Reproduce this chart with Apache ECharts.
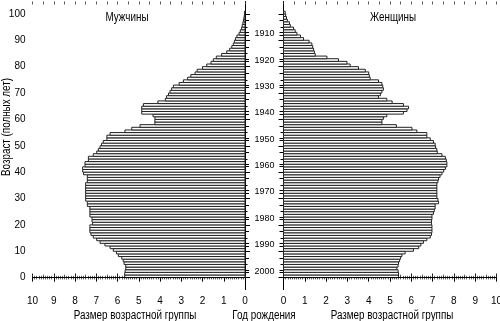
<!DOCTYPE html>
<html><head><meta charset="utf-8">
<script src="https://cdn.jsdelivr.net/npm/echarts@6/dist/echarts.min.js"></script>
<style>html,body{margin:0;padding:0;background:#fff}#c{width:500px;height:321px}</style>
</head><body><div id="c"></div>
<script>
// Age categories (full years)
const ages = [0,1,2,3,4,5,6,7,8,9,10,11,12,13,14,15,16,17,18,19,20,21,22,23,24,25,26,27,28,29,30,31,32,33,34,35,36,37,38,39,40,41,42,43,44,45,46,47,48,49,50,51,52,53,54,55,56,57,58,59,60,61,62,63,64,65,66,67,68,69,70,71,72,73,74,75,76,77,78,79,80,81,82,83,84,85,86,87,88,89,90,91,92,93,94,95,96,97,98,99,100];
// Size of age group, men
const male = [5.66,5.66,5.64,5.61,5.61,5.69,5.73,5.80,5.96,6.05,
 6.20,6.35,6.59,6.82,6.98,7.14,7.25,7.30,7.30,7.30,
 7.17,7.20,7.20,7.30,7.30,7.30,7.30,7.42,7.42,7.50,
 7.50,7.50,7.50,7.50,7.50,7.50,7.42,7.42,7.42,7.60,
 7.64,7.64,7.53,7.53,7.37,7.37,7.14,6.98,6.90,6.82,
 6.75,6.67,6.50,6.50,6.35,5.65,5.33,4.94,4.24,4.24,
 4.24,4.33,4.86,4.86,4.86,4.78,4.10,3.75,3.69,3.60,
 3.53,3.45,3.37,3.10,2.90,2.70,2.55,2.35,2.25,2.00,
 1.80,1.60,1.49,1.35,1.10,0.86,0.72,0.62,0.55,0.50,
 0.45,0.38,0.28,0.22,0.16,0.13,0.10,0.07,0.05,0.03,
 0.02];
// Size of age group, women
const female = [5.40,5.40,5.38,5.32,5.38,5.40,5.45,5.50,5.56,5.71,
 6.10,6.35,6.45,6.57,6.73,6.89,6.95,6.97,6.97,6.97,
 6.95,6.95,6.97,6.97,7.04,7.08,7.12,7.12,7.28,7.25,
 7.20,7.20,7.20,7.20,7.20,7.20,7.25,7.28,7.35,7.44,
 7.52,7.60,7.67,7.67,7.64,7.60,7.44,7.22,7.20,7.14,
 7.12,7.04,6.89,6.73,6.73,6.26,6.03,5.30,4.62,4.62,
 4.69,4.85,5.63,5.80,5.87,5.63,5.10,4.85,4.46,4.55,
 4.62,4.69,4.66,4.62,4.46,4.07,4.03,4.00,3.84,3.52,
 3.13,2.98,2.58,2.04,1.49,1.45,1.41,1.37,1.33,1.20,
 0.94,0.80,0.63,0.55,0.47,0.32,0.28,0.18,0.14,0.10,
 0.08];
// Tick labels
const ageTicks = [0,10,20,30,40,50,60,70,80,90,100];
const ageMinorTicks = [5,15,25,35,45,55,65,75,85,95];
const birthYearLabels = [1910,1920,1930,1940,1950,1960,1970,1980,1990,2000];
const birthYearMinor = [1905,1915,1925,1935,1945,1955,1965,1975,1985,1995];
const CENSUS = 2002.5;

const FONT = '"Liberation Sans", Arial, sans-serif';
const NARROW = 0.82;
const yearLabelAges = birthYearLabels.map(y => CENSUS - y);
const yearTickAges = [];
birthYearLabels.forEach(y => { yearTickAges.push(CENSUS - y - 0.45, CENSUS - y + 0.45); });
birthYearMinor.forEach(y => yearTickAges.push(CENSUS - y));

const YMIN = -4.5, YMAX = 104.7;
const black = {color:'#000', width:1};
const thin = {color:'#333', width:0.8};

function xAxes(gi, inv){
  const base = {gridIndex:gi, type:'value', min:0, max:10, inverse:inv,
    splitLine:{show:false}, minorSplitLine:{show:false}};
  return [
    Object.assign({}, base, {position:'bottom', interval:1,
      axisLine:{show:true, lineStyle:black},
      axisTick:{show:true, inside:true, length:4, lineStyle:black},
      minorTick:{show:true, splitNumber:10, length:1.8, lineStyle:thin},
      axisLabel:{show:true, fontSize:10, color:'#000', margin:7, fontFamily:FONT}}),
    Object.assign({}, base, {position:'top', interval:1,
      axisLine:{show:true, lineStyle:black},
      axisTick:{show:true, inside:true, length:4, lineStyle:black},
      minorTick:{show:true, splitNumber:10, length:1.8, lineStyle:thin},
      axisLabel:{show:false}}),
    Object.assign({}, base, {position:'bottom', interval:0.5,
      axisLine:{show:false},
      axisTick:{show:true, inside:true, length:3, lineStyle:thin},
      axisLabel:{show:false}}),
    Object.assign({}, base, {position:'top', interval:0.5,
      axisLine:{show:false},
      axisTick:{show:true, inside:true, length:3, lineStyle:thin},
      axisLabel:{show:false}})
  ];
}
function yAx(gi, pos, opts){
  return Object.assign({gridIndex:gi, type:'value', position:pos, min:YMIN, max:YMAX,
    splitLine:{show:false}, axisLine:{show:false}, axisLabel:{show:false}}, opts);
}
const yAxes = [
  // grid 0 (men)
  yAx(0,'left',{axisLine:{show:true,lineStyle:black},
    axisTick:{show:true,inside:true,length:5,lineStyle:black,customValues:ageTicks},
    axisLabel:{show:true,customValues:ageTicks,fontSize:10,color:'#000',margin:7,fontFamily:FONT}}),
  yAx(0,'left',{axisTick:{show:true,inside:true,length:2.5,lineStyle:black,customValues:ageMinorTicks}}),
  yAx(0,'right',{axisLine:{show:true,lineStyle:black},
    axisTick:{show:true,inside:false,length:4,lineStyle:black,customValues:yearTickAges}}),
  // grid 1 (women)
  yAx(1,'left',{axisLine:{show:true,lineStyle:black},
    axisTick:{show:true,inside:false,length:4,lineStyle:black,customValues:yearTickAges},
    axisLabel:{show:true,customValues:yearLabelAges,fontSize:9,color:'#000',margin:9,fontFamily:FONT,
      formatter: v => String(Math.round(CENSUS - v))}}),
  yAx(1,'right',{axisLine:{show:true,lineStyle:black},
    axisTick:{show:true,inside:true,length:5,lineStyle:black,customValues:ageTicks}}),
  yAx(1,'right',{axisTick:{show:true,inside:true,length:3,lineStyle:black,customValues:ageMinorTicks}})
];

function barSeries(vals, xi, yi){
  return {
    type:'custom', xAxisIndex:xi, yAxisIndex:yi, silent:true,
    data: ages.map((a,i) => [vals[i], a]),
    encode:{x:0, y:1},
    renderItem: function(params, api){
      const v = api.value(0), a = api.value(1);
      const p0 = api.coord([0, a]);
      const p1 = api.coord([v, a + 1]);
      return {type:'rect',
        shape:{x:Math.min(p0[0],p1[0]), y:Math.min(p0[1],p1[1]),
               width:Math.abs(p1[0]-p0[0]), height:Math.abs(p1[1]-p0[1])},
        style:{fill:'#fff', stroke:'#222', lineWidth:1}};
    },
    markLine:{silent:true, symbol:'none', label:{show:false},
      lineStyle:{color:'#000', width:1, type:'solid'}, data:[{yAxis:0}]},
    z:1
  };
}

function txt(s, x, y, rot){
  return {type:'text', x:x, y:y, rotation:rot || 0, scaleX:NARROW, scaleY:1,
    style:{text:s, font:'12px '+FONT, fill:'#000', align:'center', verticalAlign:'middle'}};
}

const chart = echarts.init(document.getElementById('c'), null, {renderer:'canvas'});
chart.setOption({
  animation:false,
  backgroundColor:'#fff',
  grid:[
    {left:32.5, top:1.5, width:212.5, height:288, outerBoundsMode:'none'},
    {left:283.5, top:1.5, width:213, height:288, outerBoundsMode:'none'}
  ],
  xAxis: xAxes(0,true).concat(xAxes(1,false)),
  yAxis: yAxes,
  series:[ barSeries(male, 0, 0), barSeries(female, 4, 3) ],
  graphic:[
    txt('Мужчины', 127, 18),
    txt('Женщины', 393, 18),
    txt('Возраст (полных лет)', 7, 127, Math.PI/2),
    txt('Размер возрастной группы', 135, 316),
    txt('Год рождения', 264, 316),
    txt('Размер возрастной группы', 392, 316)
  ]
});
</script></body></html>
